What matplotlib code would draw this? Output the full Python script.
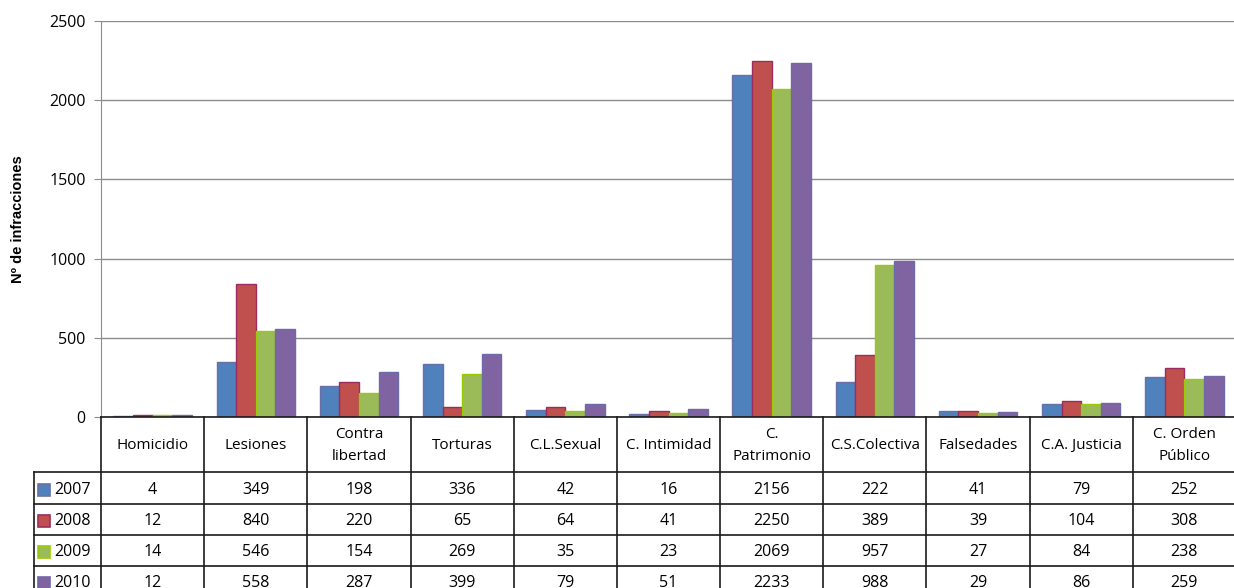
import numpy as np
import matplotlib.pyplot as plt
from matplotlib.patches import Rectangle

plt.rcParams['font.family'] = ['Open Sans', 'DejaVu Sans']

categories = ['Homicidio', 'Lesiones', 'Contra\nlibertad', 'Torturas', 'C.L.Sexual',
              'C. Intimidad', 'C.\nPatrimonio', 'C.S.Colectiva', 'Falsedades',
              'C.A. Justicia', 'C. Orden\nPúblico']
years = ['2007', '2008', '2009', '2010']
v2007 = [4, 349, 198, 336, 42, 16, 2156, 222, 41, 79, 252]
v2008 = [12, 840, 220, 65, 64, 41, 2250, 389, 39, 104, 308]
v2009 = [14, 546, 154, 269, 35, 23, 2069, 957, 27, 84, 238]
v2010 = [12, 558, 287, 399, 79, 51, 2233, 988, 29, 86, 259]
series = [v2007, v2008, v2009, v2010]

fills = ['#4F81BD', '#C0504D', '#9BBB59', '#8064A2']
edges = ['#6A6FA8', '#9B2C5E', '#99CC00', '#6C6AA8']

W, H = 1234, 588
fig = plt.figure(figsize=(W / 100, H / 100), dpi=100)

# pixel layout
left, right = 101, 1236
top, base = 21, 417
tab_left = 34
cat_w = (right - left) / len(categories)
fs = 11.5

ax = fig.add_axes([left / W, 1 - base / H, (right - left) / W, (base - top) / H])
n = len(categories)
x = np.arange(n) + 0.5
bw = 0.19
for k, vals in enumerate(series):
    ax.bar(x + (k - 1.5) * bw, vals, bw, color=fills[k], edgecolor=edges[k],
           linewidth=1.0, zorder=3)
ax.set_xlim(0, n)
ax.set_ylim(0, 2500)
ax.set_yticks(np.arange(0, 2501, 500))
ax.grid(axis='y', color='#8C8C8C', linewidth=1.0, zorder=0)
ax.set_xticks([])
for s in ['top', 'right', 'bottom']:
    ax.spines[s].set_visible(False)
ax.spines['left'].set_color('#8C8C8C')
ax.tick_params(axis='y', length=5, color='#8C8C8C', labelsize=fs, pad=6)
ax.set_ylabel('Nº de infracciones', fontsize=10.5, fontweight='bold',
              family=['Liberation Sans', 'DejaVu Sans'])
ax.yaxis.set_label_coords(-76 / (right - left), 0.5)

# data table under the bars, x in category units, y in pixel rows
lab_w = (left - tab_left) / cat_w
tax = fig.add_axes([tab_left / W, 0, (right - tab_left) / W, 1 - base / H])
tax.set_xlim(-lab_w, n)
tax.set_ylim(H, base)
tax.axis('off')

rows = [base, 472, 504, 535, 566, 597]
lc = '#1A1A1A'
tax.plot([0, n], [base, base], color=lc, lw=1.2, clip_on=False)
for r in rows[1:5]:
    tax.plot([-lab_w, n], [r, r], color=lc, lw=1.2, clip_on=False)
tax.plot([-lab_w, -lab_w], [rows[1], H], color=lc, lw=1.2, clip_on=False)
for i in range(n + 1):
    tax.plot([i, i], [base, H], color=lc, lw=1.2, clip_on=False)

for i, c in enumerate(categories):
    tax.text(i + 0.5, (rows[0] + rows[1]) / 2 + 1, c, ha='center', va='center',
             fontsize=fs - 0.5, linespacing=1.55)
    for k, vals in enumerate(series):
        tax.text(i + 0.5, (rows[k + 1] + rows[k + 2]) / 2 + 2, str(vals[i]),
                 ha='center', va='center', fontsize=fs)

for k, yr in enumerate(years):
    yc = (rows[k + 1] + rows[k + 2]) / 2 + 2
    sq = 12 / cat_w
    tax.add_patch(Rectangle((-lab_w + 4 / cat_w, yc - 6), sq, 12,
                            facecolor=fills[k], edgecolor=edges[k], lw=1.2))
    tax.text(-lab_w + 20 / cat_w, yc, yr, ha='left', va='center', fontsize=fs)

fig.savefig('out.png', dpi=100)
